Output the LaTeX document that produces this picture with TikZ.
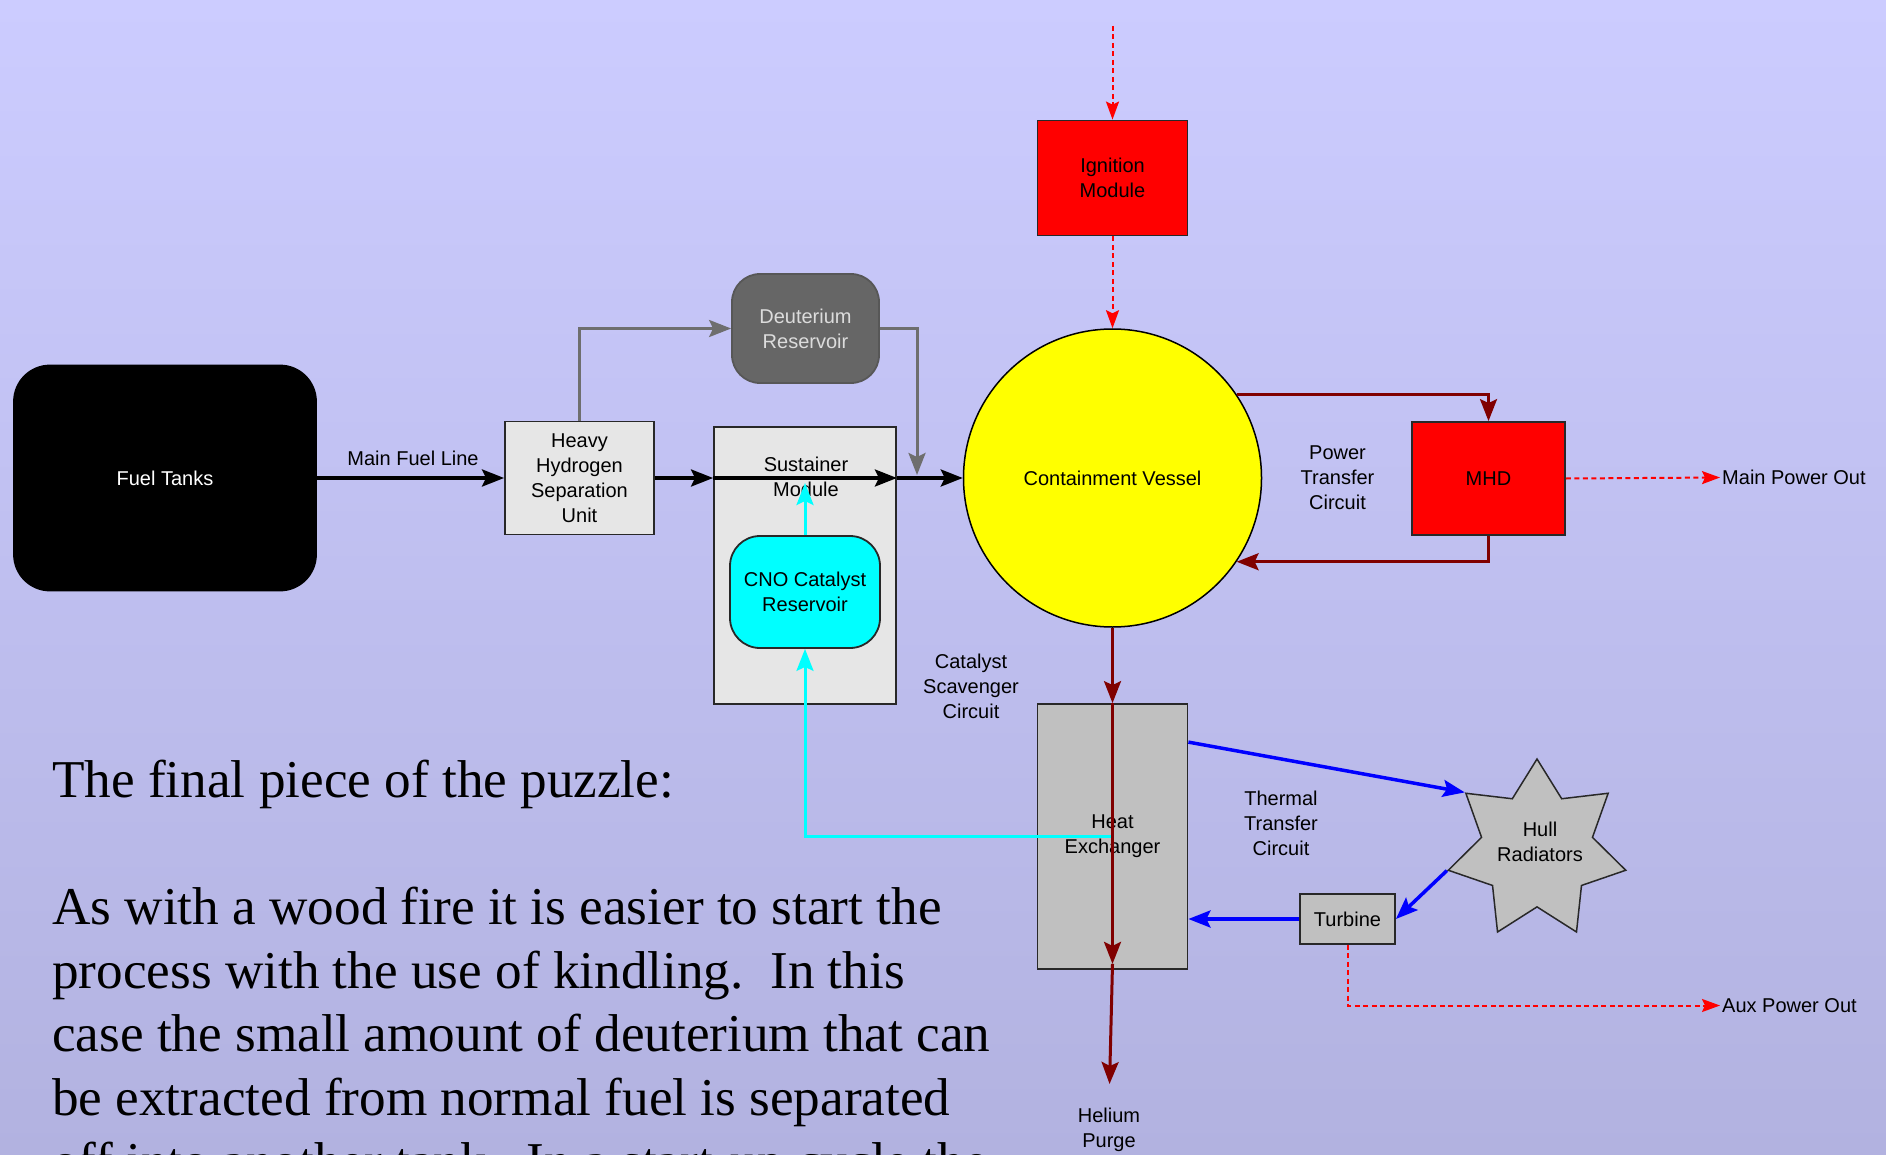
\documentclass[tikz,border=0pt]{standalone}
\usepackage{fontspec}
\setmainfont{Liberation Serif}
\setsansfont{Liberation Sans}
\usetikzlibrary{shapes.geometric,arrows.meta,calc}
\definecolor{bgtop}{RGB}{204,204,255}
\definecolor{bgbot}{RGB}{178,178,224}
\definecolor{darkred}{RGB}{128,0,0}
\definecolor{linegray}{RGB}{110,110,110}
\definecolor{deutgray}{RGB}{102,102,102}
\definecolor{deuttext}{RGB}{220,220,220}
\definecolor{boxlight}{RGB}{230,230,230}
\definecolor{boxgray}{RGB}{192,192,192}
\definecolor{outline}{RGB}{40,40,40}
\definecolor{aqua}{RGB}{0,255,255}
\definecolor{sunyellow}{RGB}{255,255,0}
\definecolor{purered}{RGB}{255,0,0}
\definecolor{pureblue}{RGB}{0,0,255}
\begin{document}
\begin{tikzpicture}[x=1pt,y=-1pt,
  sf/.style={font=\sffamily\fontsize{20}{25}\selectfont},
  lbl/.style={sf, align=center, inner sep=2pt},
  box/.style={sf, draw=outline, line width=1.8pt, inner sep=0pt, align=center},
  bigtext/.style={font=\fontsize{53.2}{64}\selectfont, anchor=base west, inner sep=0pt},
  tip/.style={-{Stealth[length=22pt,width=17pt,inset=4pt]}},
  blk/.style={tip, draw=black, line width=3.5pt},
  gry/.style={tip, draw=linegray, line width=3pt},
  cyn/.style={tip, draw=aqua, line width=3pt},
  drd/.style={tip, draw=darkred, line width=3pt},
  blu/.style={tip, draw=pureblue, line width=3.5pt},
  rdash/.style={-{Stealth[length=18pt,width=13pt,inset=3pt]}, draw=purered, line width=2pt, dash pattern=on 5pt off 3.5pt}
]
\useasboundingbox (0,0) rectangle (1886,1155);
\clip (0,0) rectangle (1886,1155);
\shade[top color=bgtop, bottom color=bgbot] (0,0) rectangle (1886,1155);

% nodes
\node[box, fill=black, draw=black, text=white, rounded corners=36pt,
      minimum width=302pt, minimum height=225pt] (tanks) at (165,478) {Fuel Tanks};
\node[box, fill=boxlight, minimum width=149pt, minimum height=113pt] (hhsu) at (579.5,478)
      {Heavy\\Hydrogen\\Separation\\Unit};
\node[box, fill=boxlight, minimum width=182pt, minimum height=277pt] (sust) at (805,565.5) {};
\node[lbl] (sustlbl) at (806,477) {Sustainer\\Module};
\node[box, fill=deutgray, draw=deutgray!85!black, text=deuttext, rounded corners=28pt,
      minimum width=147pt, minimum height=109pt] (deut) at (805.5,328.5) {Deuterium\\Reservoir};
\node[box, fill=aqua, rounded corners=30pt, minimum width=150pt, minimum height=112pt]
      (cno) at (805,592) {CNO Catalyst\\Reservoir};
\node[box, circle, fill=sunyellow, draw=black, line width=1.5pt, minimum size=298pt]
      (cv) at (1112.5,478) {Containment Vessel};
\node[box, fill=purered, minimum width=150pt, minimum height=115pt] (ign) at (1112.5,178) {Ignition\\Module};
\node[box, fill=purered, minimum width=153pt, minimum height=113pt] (mhd) at (1488.5,478.5) {MHD};
\node[box, fill=boxgray, minimum width=150pt, minimum height=265pt] (hx) at (1112.5,836.5) {Heat\\Exchanger};
\node[box, fill=boxgray, minimum width=95pt, minimum height=50pt] (turb) at (1347.5,919) {Turbine};
\node[star, star points=7, star point ratio=1.6, minimum size=182pt, inner sep=0pt,
      fill=boxgray, draw=outline, line width=1.5pt] (hull) at (1537,850) {};
\node[lbl] (hulllbl) at (1540,842) {Hull\\Radiators};

% labels
\node[lbl] (mfl) at (413,458) {Main Fuel Line};
\node[lbl] (ptc) at (1337.5,477.5) {Power\\Transfer\\Circuit};
\node[lbl] (csc) at (971,686) {Catalyst\\Scavenger\\Circuit};
\node[lbl] (ttc) at (1281,823) {Thermal\\Transfer\\Circuit};
\node[lbl] (hp) at (1109,1130) {Helium\\Purge};
\node[lbl, anchor=west] (mpo) at (1720,477.5) {Main Power Out};
\node[lbl, anchor=west] (apo) at (1720,1005.5) {Aux Power Out};

\coordinate (merge) at (917,475);
\coordinate (cnotip) at (805,483);
\coordinate (igsrc) at (1112.5,26);

% black fuel line
\draw[blk] (tanks.east) -- (hhsu.west);
\draw[blk] (hhsu.east) -- (hhsu.east -| sust.west);
\draw[blk] (hhsu.east -| sust.west) -- (hhsu.east -| sust.east);
\draw[blk] (hhsu.east -| sust.east) -- (cv.west);

% gray deuterium loop
\draw[gry] (hhsu.north) |- (deut.west);
\draw[gry] (deut.east) -| (merge);

% cyan catalyst
\draw[cyn] (cno.north) -- (cnotip);
\draw[cyn] (hx.center) -| (cno.south);

% red dashed
\draw[rdash] (igsrc) -- (ign.north);
\draw[rdash] (ign.south) -- (cv.north);
\draw[rdash] (mhd.east) -- (mpo.west);
\draw[rdash] (turb.south) |- (apo.west);

% dark red power / purge
\draw[drd] (cv.34.5) -| (mhd.north);
\draw[drd] (mhd.south) |- (cv.-34.5);
\draw[drd] (cv.south) -- (hx.north);
\draw[drd] (hx.north) -- ($(hx.south)+(0,-6)$);
\draw[drd, shorten >=22pt] ($(hx.south)+(0,-6)$) -- (hp.north);

% blue thermal
\draw[blu] ($(hx.north east)+(0,39)$) -- (hull.outer point 2);
\draw[blu] (hull.outer point 3) -- (turb.east);
\draw[blu] (turb.west) -- (turb.west -| hx.east);

% body text
\node[bigtext] (t1) at (52,797) {The final piece of the puzzle:};
\node[bigtext] (t2) at (52,924.4) {As with a wood fire it is easier to start the};
\node[bigtext] (t3) at (52,988) {process with the use of kindling.~~In this};
\node[bigtext] (t4) at (52,1051.7) {case the small amount of deuterium that can};
\node[bigtext] (t5) at (52,1115.4) {be extracted from normal fuel is separated};
\node[bigtext] (t6) at (52,1179) {off into another tank.~~In a start-up cycle the};
\end{tikzpicture}
\end{document}
